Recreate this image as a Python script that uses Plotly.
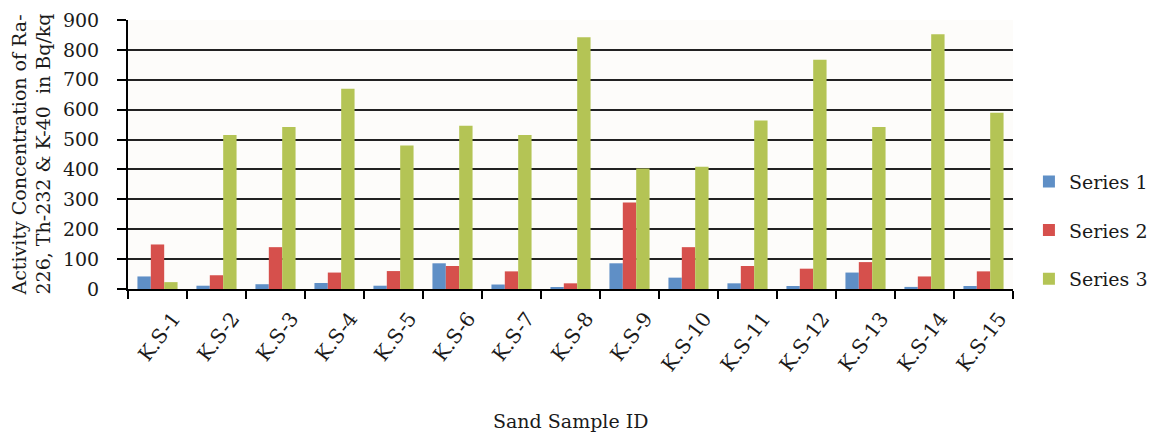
import plotly.graph_objects as go

categories = ["K.S-1", "K.S-2", "K.S-3", "K.S-4", "K.S-5", "K.S-6", "K.S-7", "K.S-8",
              "K.S-9", "K.S-10", "K.S-11", "K.S-12", "K.S-13", "K.S-14", "K.S-15"]
series1 = [42, 11, 16, 20, 11, 86, 15, 6, 86, 38, 19, 10, 55, 7, 10]
series2 = [149, 46, 140, 55, 60, 77, 59, 19, 289, 140, 77, 68, 90, 42, 59]
series3 = [23, 515, 542, 670, 480, 546, 515, 842, 403, 409, 564, 767, 542, 852, 590]
y_ticks = [0, 100, 200, 300, 400, 500, 600, 700, 800, 900]

names = ["Series 1", "Series 2", "Series 3"]
colors = ["#5f8fc6", "#d6504c", "#b4c455"]
font = "DejaVu Serif"
txt = "#1a1a1a"

fig = go.Figure()
for name, vals, col in zip(names, [series1, series2, series3], colors):
    fig.add_trace(go.Bar(x=categories, y=vals, name=name, marker_color=col,
                         marker_line_width=0, legendgroup=name))

# page body has an 8px margin, so the figure is sized/offset to compensate
fig.update_layout(
    width=1147, height=424,
    margin=dict(l=120, r=142, t=12, b=143, autoexpand=False),
    paper_bgcolor="white", plot_bgcolor="#fdfcfa",
    barmode="group", bargap=0.32, bargroupgap=0,
    font=dict(family=font, size=18, color=txt),
    showlegend=True,
    legend=dict(x=1.018, xanchor="left", y=0.47, yanchor="top",
                tracegroupgap=21, font=dict(size=19, family=font, color=txt),
                itemwidth=30),
    annotations=[
        dict(text="Sand Sample ID", xref="paper", yref="paper", x=0.5, y=-0.491,
             xanchor="center", yanchor="middle", showarrow=False,
             font=dict(size=19, family=font, color=txt)),
        dict(text="Activity Concentration of Ra-<br>226, Th-232 & K-40  in Bq/kq",
             xref="paper", yref="paper", x=-0.1096, y=0.5, textangle=-90,
             align="left", xanchor="center", yanchor="middle", showarrow=False,
             font=dict(size=19, family=font, color=txt)),
    ],
)
fig.update_xaxes(
    type="category", tickson="boundaries", ticks="outside", ticklen=8, tickcolor="black",
    tickwidth=1.5, showline=True, linecolor="black", linewidth=1.5, tickangle=-53,
    ticklabelshift=16, ticklabelstandoff=8,
    tickfont=dict(size=20, family=font, color=txt), showgrid=False, automargin=False,
)
fig.update_yaxes(
    range=[0, 900], tickvals=y_ticks, ticks="outside", ticklen=9, tickcolor="black",
    tickwidth=1.5, ticklabelstandoff=14, automargin=False,
    showline=True, linecolor="black", linewidth=2, showgrid=True, gridcolor="#222",
    gridwidth=1.5, zeroline=False, tickfont=dict(size=19, family=font, color=txt),
)

fig.write_html("out.html")
